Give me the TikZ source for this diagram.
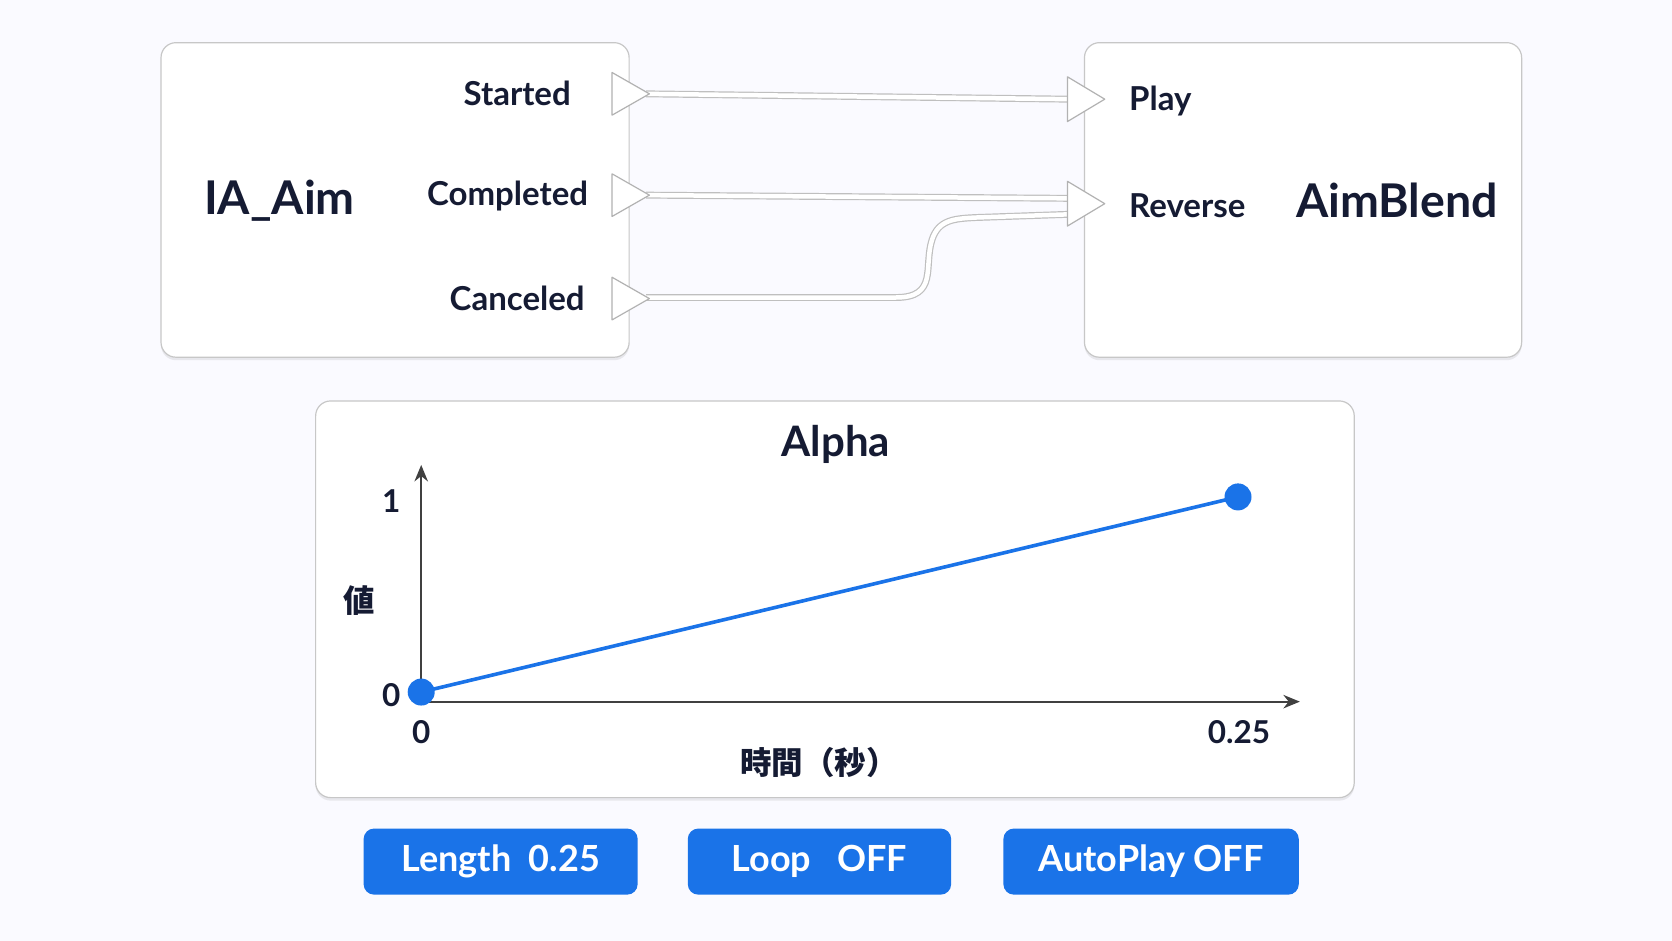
\documentclass[tikz,border=0pt]{standalone}
\usepackage{fontspec}
\setmainfont{Lato}
\newfontfamily\cjk{Noto Sans CJK JP}
\usetikzlibrary{arrows.meta,shadows}
\definecolor{ink}{HTML}{151B33}
\definecolor{blu}{HTML}{1A73E8}
\begin{document}
\begin{tikzpicture}[x=0.025cm,y=-0.025cm,
  panel/.style={draw=black!22,line width=0.8pt,fill=white,rounded corners=10pt,drop shadow={shadow xshift=0pt,shadow yshift=-2pt,opacity=0.15}},
  lbl/.style={font=\bfseries\fontsize{22}{26}\selectfont,text=ink},
  big/.style={font=\bfseries\fontsize{31}{36}\selectfont,text=ink},
  ax/.style={font=\bfseries\fontsize{21}{25}\selectfont,text=ink},
  pin/.style={draw=black!30,fill=white,line width=0.8pt,line join=round},
  wire/.style={draw=black!25,double=white,double distance=3pt,line width=0.8pt},
  btn/.style={fill=blu,rounded corners=7pt,text=white,font=\bfseries\fontsize{24}{28}\selectfont},
  dot/.style={circle,fill=blu,inner sep=0pt,minimum size=18pt}]
\useasboundingbox (0,0) rectangle (1568,882);
\fill[white!98!blue] (0,0) rectangle (1568,882);
% boxes
\draw[panel] (151,40) rectangle (590,335);
\draw[panel] (1017,40) rectangle (1427,335);
\draw[panel] (296,376) rectangle (1270,748);
% wires
\coordinate (s1) at (606,88); \coordinate (p1) at (1002,93);
\coordinate (s2) at (606,183); \coordinate (p2) at (1002,186);
\coordinate (s3) at (606,279); \coordinate (p3) at (1002,201);
\draw[wire] (s1) -- (p1);
\draw[wire] (s2) -- (p2);
\draw[wire] (s3) -- (840,279) .. controls (880,279) and (866,250) .. (874,225) .. controls (880,206) and (895,205) .. (915,204) -- (p3);
% pins
\foreach \y/\n in {88/ps,183/pc,280/pk}{\draw[pin] (574,\y-20) -- (609,\y) -- (574,\y+20) -- cycle;}
\foreach \y in {93,191}{\draw[pin] (1001,\y-21) -- (1036,\y) -- (1001,\y+21) -- cycle;}
% labels
\node[lbl] (st) at (485,88) {Started};
\node[lbl] (co) at (476,184) {Completed};
\node[lbl] (ca) at (485,280) {Canceled};
\node[big] (ia) at (262,188) {IA\_Aim};
\node[lbl,anchor=west] (pl) at (1054,95) {Play};
\node[lbl,anchor=west] (rv) at (1054,193) {Reverse};
\node[big] (ab) at (1310,188) {AimBlend};
% chart
\node[font=\bfseries\fontsize{28}{32}\selectfont,text=ink] (al) at (784,417) {Alpha};
\coordinate (o) at (395,658);
\coordinate (yt) at (395,436);
\coordinate (xt) at (1219,658);
\draw[black!75,line width=1.2pt,-{Stealth[length=11pt,width=9pt]}] (o) -- (yt);
\draw[black!75,line width=1.2pt,-{Stealth[length=11pt,width=9pt]}] (o) -- (xt);
\node[dot] (d0) at (395,649) {};
\node[dot] (d1) at (1161,466) {};
\draw[blu,line width=2.4pt] (d0.center) -- (d1.center);
\node[ax] (y1) at (367,470) {1};
\node[ax] (y0) at (367,652) {0};
\node[ax] (x0) at (395,687) {0};
\node[ax] (x1) at (1162,687) {0.25};
\node[font=\cjk\bfseries\fontsize{21}{25}\selectfont,text=ink] (vy) at (337,563) {値};
\node[font=\cjk\bfseries\fontsize{21}{25}\selectfont,text=ink] (vx) at (768,715) {時間（秒）};
% buttons
\fill[btn] (341,777) rectangle (598,839);
\node[btn,fill=none] (b1) at (469.5,808) {Length\ \ 0.25};
\fill[btn] (645,777) rectangle (892,839);
\node[btn,fill=none] (b2) at (768.5,808) {Loop\ \ \ OFF};
\fill[btn] (941,777) rectangle (1218,839);
\node[btn,fill=none] (b3) at (1079.5,808) {AutoPlay OFF};
\end{tikzpicture}
\end{document}
